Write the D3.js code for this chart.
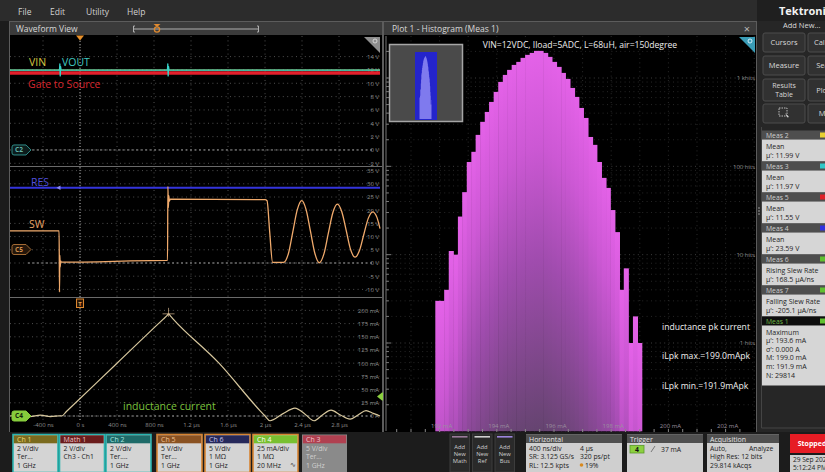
<!DOCTYPE html>
<html><head><meta charset="utf-8">
<script src="https://cdn.jsdelivr.net/npm/d3@7/dist/d3.min.js"></script>
<style>
html,body{margin:0;padding:0;background:#1c1c1c;overflow:hidden}
svg{display:block;font-family:"Open Sans","Noto Sans","DejaVu Sans",sans-serif}
</style></head><body>
<svg id="scope" width="825" height="472"></svg>
<script>
// ---------- waveform axes ----------
const timeTicksNs = [-400, 0, 400, 800, 1200, 1600, 2000, 2400, 2800];
const timeTickLabels = ["-400 ns", "0 s", "400 ns", "800 ns", "1.2 µs", "1.6 µs", "2 µs", "2.4 µs", "2.8 µs"];
const supplyTicksV = [14, 12, 10, 8, 6, 4, 2, 0, -2];
const switchTicksV = [35, 30, 25, 20, 15, 10, 5, 0, -5, -10];
const currentTicksMA = [200, 175, 150, 125, 100, 75, 50, 25, 0];

// ---------- waveform traces (time in ns) ----------
const vinTimeNs = [-757, 3243];
const vinVolts = [11.99, 11.99];
const voutTimeNs = [-757, -222, -218, -214, -210, -205, 945, 949, 953, 957, 962, 3243];
const voutVolts = [11.97, 11.97, 12.9, 11.1, 12.5, 11.97, 11.97, 12.9, 11.1, 12.5, 11.97, 11.97];
const gateTimeNs = [-757, 3243];
const gateVolts = [11.55, 11.55];
const resTimeNs = [-757, 3243];
const resVolts = [28.5, 28.5];
const swTimeNs = [-757, -226, -222, -218, -214, -210, -204, 940, 946, 950, 955, 960, 966, 975,
  2000, 2022, 2050, 2082, 2200, 2253, 2301, 2349, 2397, 2444, 2492, 2540, 2587, 2636, 2684, 2733,
  2782, 2830, 2878, 2925, 2973, 3021, 3068, 3116, 3164, 3212, 3243];
const swVolts = [12.2, 12.2, -11, 3, -1.5, 0.8, 0.3, 1.0, 1.0, 29, 21, 25.5, 23.4, 24.2,
  24.0, 23.6, 12, 0.2, 0.2, 3.6, 11.9, 20.2, 23.6, 20.2, 11.85, 3.5, 0.1, 3.35, 11.2, 19.05,
  22.3, 19.4, 12.25, 5.1, 2.2, 4.7, 10.8, 16.9, 19.4, 17.1, 13];
const inductorTimeNs = [-757, -650, -540, -430, -320, -210, -198, -150, 400, 900, 940, 957, 975, 1000,
  1500, 1950, 2000, 2054, 2190, 2324, 2430, 2530, 2620, 2714, 2815, 2919, 3005, 3092, 3170, 3243];
const inductorMA = [0, 1.5, -1, 1.5, -1, 0.5, 0, 8, 100, 183.5, 190, 193.5, 190, 185,
  100.5, 9.3, 0, -9, 4, 15, 4, -9, 2, 11, 2, -6, 2, 10, 5, 0];
const inductorPeakNs = 957, inductorPeakMA = 193.5;
const triggerLevelMA = 37;

// ---------- histogram of the inductor peak current ----------
const histBinEdgesMA = [191.85, 192.01, 192.16, 192.32, 192.48, 192.64, 192.79, 192.95, 193.11, 193.26,
  193.42, 193.58, 193.73, 193.89, 194.05, 194.21, 194.36, 194.52, 194.68, 194.83, 194.99, 195.15,
  195.30, 195.46, 195.62, 195.78, 195.93, 196.09, 196.25, 196.40, 196.56, 196.72, 196.87, 197.03,
  197.19, 197.35, 197.50, 197.66, 197.82, 197.97, 198.13, 198.29, 198.44, 198.60, 198.76, 198.92, 199.07];
const histHits = [3, 3, 4, 11, 10, 27, 51, 112, 146, 227, 319, 413, 536, 696, 903, 1084, 1236, 1407,
  1522, 1690, 1828, 1924, 2028, 2028, 1924, 1734, 1522, 1336, 1142, 977, 772, 611, 458, 353, 215,
  175, 112, 74, 57, 32, 18, 4, 7, 1, 2, 1];
const histHitTicks = [1000, 100, 10, 1];
const histHitLabels = ["1 khits", "100 hits", "10 hits", "1 hits"];
const histCurrentTicksMA = [192, 194, 196, 198, 200, 202];

// ---------- instrument readouts ----------
const menuItems = ["File", "Edit", "Utility", "Help"];
const measNames = ["Meas 2", "Meas 3", "Meas 5", "Meas 4", "Meas 6", "Meas 7"];
const measKinds = ["Mean", "Mean", "Mean", "Mean", "Rising Slew Rate", "Falling Slew Rate"];
const measValues = ["µ': 11.99 V", "µ': 11.97 V", "µ': 11.55 V", "µ': 23.59 V", "µ': 168.5 µA/ns", "µ': -205.1 µA/ns"];
const meas1Lines = ["Maximum", "µ': 193.6 mA", "σ': 0.000 A", "M: 199.0 mA", "m: 191.9 mA", "N: 29814"];
const badgeNames = ["Ch 1", "Math 1", "Ch 2", "Ch 5", "Ch 6", "Ch 4", "Ch 3"];
const badgeLines = [["2 V/div", "Ter...", "1 GHz"], ["2 V/div", "Ch3 - Ch1"], ["2 V/div", "Ter....", "1 GHz"],
  ["5 V/div", "Ter...", "1 GHz"], ["5 V/div", "1 MΩ", "1 GHz"], ["25 mA/div", "1 MΩ", "20 MHz"], ["5 V/div", "Ter...", "1 GHz"]];
const horizontalLines = [["400 ns/div", "4 µs"], ["SR: 3.125 GS/s", "320 ps/pt"], ["RL: 12.5 kpts", "19%"]];
const acquisitionLines = [["Auto,", "Analyze"], ["High Res: 12 bits", ""], ["29.814 kAcqs", ""]];

// ================= drawing =================
const W = 825, H = 472;
const svg = d3.select("#scope");
const defs = svg.append("defs");
svg.append("rect").attr("width", W).attr("height", H).attr("fill", "#1c1c1c");

function label(g, x, y, s, o = {}) {
  return g.append("text").attr("x", x).attr("y", y).text(s)
    .attr("font-size", o.size || 7).attr("fill", o.fill || "#ddd")
    .attr("text-anchor", o.anchor || "start").attr("font-weight", o.weight || "normal");
}
function rect(g, x, y, w, h, fill, stroke, sw) {
  const r = g.append("rect").attr("x", x).attr("y", y).attr("width", w).attr("height", h).attr("fill", fill);
  if (stroke) r.attr("stroke", stroke).attr("stroke-width", sw || 1);
  return r;
}

// menu bar
rect(svg, 0, 0, 757, 21, "#2c2c2c");
[18, 50, 86, 127].forEach((x, i) => label(svg, x, 15, menuItems[i], { size: 8.5, fill: "#d2d2d2" }));

// ---------- waveform view ----------
rect(svg, 9.5, 21.5, 373, 411, "#000", "#5c5c5c");
rect(svg, 10, 22, 372, 13, "#3b3b3b");
label(svg, 16, 32, "Waveform View", { size: 8.5, fill: "#d8d8d8" });
// horizontal position bar
const hb = svg.append("g").attr("stroke", "#b0b0b0").attr("fill", "none");
hb.append("line").attr("x1", 134).attr("x2", 258).attr("y1", 29).attr("y2", 29);
hb.append("path").attr("d", "M135,26 h-1.5 v6 h1.5 M257,26 h1.5 v6 h-1.5");
svg.append("circle").attr("cx", 157).attr("cy", 29.5).attr("r", 2.6).attr("fill", "none").attr("stroke", "#e08a30").attr("stroke-width", 1.3);
svg.append("path").attr("d", "M153.5,24 h7 l-3.5,3 z").attr("fill", "#e08a30");

const tx = d3.scaleLinear().domain([-757, 3243]).range([10, 380]);
const supplyY = d3.scaleLinear().domain([-2, 14]).range([163.3, 56.6]);
const switchY = d3.scaleLinear().domain([-10, 35]).range([289.4, 170.6]);
const currentY = d3.scaleLinear().domain([0, 200]).range([416, 310.4]);

// graticule
const grid = svg.append("g").attr("stroke", "#4f4f4f").attr("stroke-dasharray", "1,3.4");
timeTicksNs.forEach(t => grid.append("line").attr("x1", tx(t)).attr("x2", tx(t)).attr("y1", 36).attr("y2", 420));
[[supplyY, supplyTicksV], [switchY, switchTicksV], [currentY, currentTicksMA]].forEach(([s, vals]) =>
  vals.forEach(v => grid.append("line").attr("x1", 10).attr("x2", 380).attr("y1", s(v)).attr("y2", s(v))));
// channel ground lines
const gnd = svg.append("g").attr("stroke", "#9a9a9a").attr("stroke-dasharray", "2,2.5");
[supplyY(0), switchY(0), currentY(0)].forEach(y => gnd.append("line").attr("x1", 28).attr("x2", 372).attr("y1", y).attr("y2", y));
// panel separators
svg.append("g").attr("stroke", "#6a6a6a").selectAll("line").data([166.5, 297.5]).join("line")
  .attr("x1", 10).attr("x2", 382).attr("y1", d => d).attr("y2", d => d);
// trigger time line
svg.append("line").attr("x1", tx(0)).attr("x2", tx(0)).attr("y1", 38).attr("y2", 420)
  .attr("stroke", "#a8a8a8").attr("stroke-dasharray", "1,2");
svg.append("path").attr("d", `M${tx(0) - 4},35.5 h8 l-4,5 z`).attr("fill", "#e8902a");

// vertical scale readouts
function yReadout(scale, vals, fmt) {
  const g = svg.append("g").attr("transform", "translate(379,0)")
    .call(d3.axisLeft(scale).tickValues(vals).tickFormat(fmt).tickSize(0).tickPadding(0));
  g.attr("font-family", null).attr("font-size", 6);
  g.select(".domain").remove();
  g.selectAll("text").attr("fill", "#8e8e8e");
}
yReadout(supplyY, supplyTicksV, d => d + " V");
yReadout(switchY, switchTicksV, d => d + " V");
yReadout(currentY, currentTicksMA, d => d === 0 ? "0 A" : d + " mA");
const ta = svg.append("g").attr("transform", "translate(0,423)")
  .call(d3.axisBottom(tx).tickValues(timeTicksNs).tickFormat((d, i) => timeTickLabels[i]).tickSize(0).tickPadding(0));
ta.attr("font-family", null).attr("font-size", 6);
ta.select(".domain").remove();
ta.selectAll("text").attr("fill", "#8e8e8e");

// traces
defs.append("clipPath").attr("id", "wfClip").append("rect").attr("x", 10).attr("y", 36).attr("width", 371).attr("height", 394);
const traces = svg.append("g").attr("clip-path", "url(#wfClip)").attr("fill", "none");
function trace(ts, vs, yScale, color, width, curve) {
  const gen = d3.line().x((d, i) => tx(ts[i])).y((d, i) => yScale(vs[i])).curve(curve || d3.curveLinear);
  traces.append("path").attr("d", gen(ts)).attr("stroke", color).attr("stroke-width", width).attr("stroke-linejoin", "round");
}
trace(gateTimeNs, gateVolts, supplyY, "#e2202c", 3.6);
trace(vinTimeNs, vinVolts, supplyY, "#d6c23a", 1.2);
trace(voutTimeNs, voutVolts, supplyY, "#36d2c8", 1.3);
trace(resTimeNs, resVolts, switchY, "#3434dc", 2);
trace(swTimeNs, swVolts, switchY, "#f0aa6c", 1.3, d3.curveMonotoneX);
trace(inductorTimeNs, inductorMA, currentY, "#d8c89e", 1.2, d3.curveMonotoneX);
// marker on the RES trace
svg.append("path").attr("d", `M${tx(-222) - 3},${switchY(28.5)} l4,-2.2 v4.4 z`).attr("fill", "#8a8af0");
// peak cursor on the inductor current
const pk = svg.append("g").attr("stroke", "#d8b890").attr("stroke-width", 0.8).attr("opacity", 0.85);
pk.append("line").attr("x1", tx(inductorPeakNs) - 6).attr("x2", tx(inductorPeakNs) + 6).attr("y1", currentY(inductorPeakMA)).attr("y2", currentY(inductorPeakMA));
pk.append("line").attr("x1", tx(inductorPeakNs)).attr("x2", tx(inductorPeakNs)).attr("y1", currentY(inductorPeakMA) - 6).attr("y2", currentY(inductorPeakMA) + 3);

// trace labels
label(svg, 29, 66, "VIN", { size: 10.5, fill: "#d8c640" });
label(svg, 62, 66, "VOUT", { size: 10.5, fill: "#40c8c0" });
label(svg, 28, 88, "Gate to Source", { size: 10.5, fill: "#d8262e" });
label(svg, 31, 186, "RES", { size: 10.5, fill: "#5050dc" });
label(svg, 29, 228, "SW", { size: 10.5, fill: "#e8a466" });
label(svg, 123, 410, "inductance current", { size: 10.5, fill: "#7cc23e" });

// channel tags
function tag(x, yc, name, fill, stroke, color) {
  svg.append("path").attr("d", `M${x + 2},${yc - 5} h12 l5,5 l-5,5 h-12 q-2,0 -2,-2 v-6 q0,-2 2,-2 z`)
    .attr("fill", fill).attr("stroke", stroke).attr("stroke-width", 1);
  label(svg, x + 3, yc + 2.3, name, { size: 6.5, fill: color, weight: "bold" });
}
tag(12, supplyY(0), "C2", "#0c1c1c", "#2e8c88", "#62b4ac");
tag(12, 249.5, "C5", "#24160a", "#a26a34", "#d09050");
tag(12, currentY(0), "C4", "#86cc3c", "#86cc3c", "#13240a");
// trigger marker and level
svg.append("rect").attr("x", tx(0) - 3.5).attr("y", 299).attr("width", 7).attr("height", 8.5).attr("fill", "#2a1606").attr("stroke", "#e08a30");
label(svg, tx(0), 305.8, "T", { size: 6, fill: "#e8a050", anchor: "middle", weight: "bold" });
svg.append("path").attr("d", `M377,${currentY(triggerLevelMA)} l5,-4 h4 v8 h-4 z`).attr("fill", "#8cd040");
// corner tool
svg.append("path").attr("d", "M364,37 h16 v16 z").attr("fill", "#8e8e8e");
svg.append("circle").attr("cx", 375).attr("cy", 41).attr("r", 2).attr("fill", "none").attr("stroke", "#ddd").attr("stroke-width", 0.9);

// ---------- histogram plot ----------
rect(svg, 383.5, 21.5, 373, 411, "#000", "#5c5c5c");
rect(svg, 384, 22, 372, 13, "#3b3b3b");
label(svg, 392, 32, "Plot 1 - Histogram (Meas 1)", { size: 8.5, fill: "#d8d8d8" });
label(svg, 747, 33, "×", { size: 11, fill: "#b8b8b8", anchor: "middle" });

const hx = d3.scaleLinear().domain([192, 202]).range([439.6, 725.6]);
const hy = d3.scaleLog().domain([1, 1000]).range([343, 78]);
const hBottom = hy(0.1);

// faint log grid
const hgrid = svg.append("g").attr("stroke-dasharray", "1,3.4");
[0.1, 1, 10, 100, 1000].forEach(dec => [1, 2, 3, 4, 5, 6, 7, 8, 9].forEach(m => {
  const y = hy(dec * m);
  if (y < 37 || y > 430) return;
  hgrid.append("line").attr("x1", 387).attr("x2", 756).attr("y1", y).attr("y2", y)
    .attr("stroke", m === 1 ? "#3c3c3c" : "#262626");
  svg.append("line").attr("x1", 386).attr("x2", m === 1 ? 391 : 389).attr("y1", y).attr("y2", y).attr("stroke", "#777");
}));
[190, 191, 192, 193, 194, 195, 196, 197, 198, 199, 200, 201, 202, 203].forEach(v => {
  const x = hx(v);
  if (x < 387 || x > 755) return;
  hgrid.append("line").attr("x1", x).attr("x2", x).attr("y1", 36).attr("y2", 431).attr("stroke", "#2a2a2a");
});
svg.append("line").attr("x1", 386).attr("x2", 386).attr("y1", 36).attr("y2", 431).attr("stroke", "#777");

// bars, each shaded from its own top edge downwards
defs.append("clipPath").attr("id", "hClip").append("rect").attr("x", 384).attr("y", 35).attr("width", 372).attr("height", 397);
const bars = svg.append("g").attr("clip-path", "url(#hClip)");
histHits.forEach((h, i) => {
  const top = hy(h);
  const g = defs.append("linearGradient").attr("id", "bin" + i).attr("gradientUnits", "userSpaceOnUse")
    .attr("x1", 0).attr("x2", 0).attr("y1", top).attr("y2", top + 380);
  [[0, "#e462e8"], [0.25, "#cc58d4"], [0.55, "#a04cae"], [1, "#654470"]].forEach(([o, c]) =>
    g.append("stop").attr("offset", o).attr("stop-color", c));
  const x0 = hx(histBinEdgesMA[i]), x1 = hx(histBinEdgesMA[i + 1]);
  bars.append("rect").attr("x", x0).attr("y", top).attr("width", x1 - x0 + 0.5).attr("height", hBottom - top)
    .attr("fill", `url(#bin${i})`);
});

// histogram axes
const hya = svg.append("g").attr("transform", "translate(755,0)")
  .call(d3.axisLeft(hy).tickValues(histHitTicks).tickFormat((d, i) => histHitLabels[i]).tickSize(0).tickPadding(0));
hya.attr("font-family", null).attr("font-size", 6);
hya.select(".domain").remove();
hya.selectAll("text").attr("fill", "#8e8e8e");
const hxa = svg.append("g").attr("transform", "translate(1.5,423.5)")
  .call(d3.axisBottom(hx).tickValues(histCurrentTicksMA).tickFormat(d => d + " mA").tickSize(0).tickPadding(0));
hxa.attr("font-family", null).attr("font-size", 6);
hxa.select(".domain").remove();
hxa.selectAll("text").attr("fill", "#9a8e9e");
[190.5, 191, 191.5, 192, 192.5, 193, 193.5, 194, 194.5, 195, 195.5, 196, 196.5, 197, 197.5, 198, 198.5, 199, 199.5, 200, 200.5, 201, 201.5, 202, 202.5]
  .forEach(v => svg.append("line").attr("x1", hx(v)).attr("x2", hx(v)).attr("y1", 429).attr("y2", 432).attr("stroke", "#888"));

// annotations
label(svg, 580, 48, "VIN=12VDC, Iload=5ADC, L=68uH, air=150degree", { size: 8.6, fill: "#eeeeee", anchor: "middle" });
label(svg, 662, 330, "inductance pk current", { size: 8.6, fill: "#f0f0f0" });
label(svg, 662, 359, "iLpk max.=199.0mApk", { size: 8.6, fill: "#f0f0f0" });
label(svg, 662, 389, "iLpk min.=191.9mApk", { size: 8.6, fill: "#f0f0f0" });
// corner tool
svg.append("path").attr("d", "M739,37 h16 v16 z").attr("fill", "#3a9cb6");
svg.append("circle").attr("cx", 750).attr("cy", 41).attr("r", 2).attr("fill", "none").attr("stroke", "#e0f4ff").attr("stroke-width", 0.9);

// overview inset
rect(svg, 389.5, 44.5, 73, 77, "#4a4a4a", "#a6a6a6", 1.5);
rect(svg, 415, 52, 22, 68, "#2424cc");
const mx = d3.scaleLinear().domain([191.85, 199.07]).range([419.5, 431.5]);
const my = d3.scaleLog().domain([0.1, 2100]).range([119, 56]);
const miniArea = d3.area().x((d, i) => mx(histBinEdgesMA[i])).y0(119).y1((d, i) => my(histHits[Math.min(i, histHits.length - 1)]))
  .curve(d3.curveStepAfter);
svg.append("path").attr("d", miniArea(histBinEdgesMA)).attr("fill", "#8a84f2").attr("opacity", 0.9);

// ---------- right side bar ----------
rect(svg, 757, 0, 68, 432, "#262626");
rect(svg, 757, 0, 68, 21, "#1f1f1f");
label(svg, 779, 15, "Tektronix", { size: 11, fill: "#f2f2f2", weight: "bold" });
label(svg, 783, 28, "Add New...", { size: 7.5, fill: "#dcdcdc" });
function button(x, y, w, h, lines) {
  svg.append("rect").attr("x", x).attr("y", y).attr("width", w).attr("height", h).attr("rx", 2)
    .attr("fill", "#313131").attr("stroke", "#4c4c4c");
  const fs = lines.length > 1 ? 7 : 7.5;
  lines.forEach((s, i) => label(svg, x + w / 2, y + h / 2 + 2.6 - (lines.length - 1) * 4.4 + i * 8.8, s, { size: fs, fill: "#d8d8d8", anchor: "middle" }));
}
button(763, 33, 42, 19, ["Cursors"]);
button(808, 33, 40, 19, ["Callouts"]);
button(763, 56, 42, 19, ["Measure"]);
button(808, 56, 40, 19, ["Search"]);
button(763, 79, 42, 22, ["Results", "Table"]);
button(808, 79, 30, 22, ["Plot"]);
button(763, 104, 42, 19, [""]);
button(808, 104, 40, 19, ["More"]);
svg.append("rect").attr("x", 779).attr("y", 108).attr("width", 8).attr("height", 8).attr("fill", "none")
  .attr("stroke", "#bbb").attr("stroke-dasharray", "1.5,1");
svg.append("path").attr("d", "M785,113 l4,4 l-1.5,0.5 z").attr("fill", "#ddd");

const measColors = ["#e8d030", "#30c8c8", "#e02028", "#3030e0", "#60c030", "#60c030"];
measNames.forEach((n, i) => {
  const y0 = 130.5 + i * 31;
  rect(svg, 762, y0, 63, 9, "#4e4e4e");
  label(svg, 766, y0 + 7, n, { size: 6.8, fill: "#cfcfcf" });
  rect(svg, 820, y0 + 2, 5, 5, measColors[i]);
  rect(svg, 762, y0 + 9, 63, 22, "#d6d6d6");
  label(svg, 766, y0 + 18, measKinds[i], { size: 7, fill: "#1f1f1f" });
  label(svg, 766, y0 + 27.5, measValues[i], { size: 7, fill: "#1f1f1f" });
});
rect(svg, 762, 316.5, 63, 9, "#0e0e0e");
label(svg, 766, 323.5, "Meas 1", { size: 6.8, fill: "#70b848" });
rect(svg, 820, 318.5, 5, 5, "#60c030");
rect(svg, 762, 325.5, 63, 60, "#d6d6d6");
meas1Lines.forEach((s, i) => label(svg, 766, 334.5 + i * 8.6, s, { size: 7, fill: "#1f1f1f" }));
svg.append("path").attr("d", "M761.5,127 v301 h64").attr("fill", "none").attr("stroke", "#444");
[208, 211, 214].forEach(y => svg.append("circle").attr("cx", 759).attr("cy", y).attr("r", 0.8).attr("fill", "#aaa"));

// ---------- bottom status bar ----------
rect(svg, 0, 432, W, 40, "#1c1c1c");
const badgeX = [13, 59.5, 106, 157, 205, 253, 302];
const badgeHead = ["#7a6a1e", "#6a1c1c", "#1e6a68", "#8a5222", "#25285a", "#78c030", "#b04050"];
const badgeHeadText = ["#ead870", "#f0c4c4", "#a4e8e0", "#f0c090", "#c4c4f0", "#ffffff", "#f0c4cc"];
const badgeBorder = ["#2ab4b0", "#2ab4b0", "#2ab4b0", "#d68432", "#d68432", "#d68432", null];
badgeNames.forEach((n, i) => {
  const x = badgeX[i], dim = i === 6;
  rect(svg, x, 434.5, 45, 38, dim ? "#8a8a8a" : "#d4d4d4", badgeBorder[i], 1.6);
  rect(svg, x + 0.8, 435.3, 43.4, 8, badgeHead[i]);
  label(svg, x + 4, 441.8, n, { size: 7, fill: badgeHeadText[i] });
  badgeLines[i].forEach((s, j) => label(svg, x + 4, 450.5 + j * 8.5, s, { size: 6.8, fill: dim ? "#d0d0d0" : "#222" }));
});
label(svg, 290, 467, "∿", { size: 7, fill: "#333" });

["Math", "Ref", "Bus"].forEach((s, i) => {
  const x = 450 + i * 22.5;
  rect(svg, x, 434, 19.5, 38, "#2a2a2a", "#3c3c3c");
  rect(svg, x + 2, 436, 15.5, 1.6, ["#9a7a9a", "#d0d0d0", "#9c84dc"][i]);
  ["Add", "New", s].forEach((t, j) => label(svg, x + 9.75, 448.5 + j * 7, t, { size: 5.8, fill: "#cfcfcf", anchor: "middle" }));
});
function infoBox(x, w, title) {
  rect(svg, x, 434.5, w, 38, "#cfcfcf");
  rect(svg, x, 434.5, w, 8.5, "#505050");
  label(svg, x + 3, 441.5, title, { size: 7, fill: "#e6e6e6" });
}
infoBox(526, 96, "Horizontal");
horizontalLines.forEach((r, j) => {
  label(svg, 529, 450.5 + j * 8.5, r[0], { size: 6.8, fill: "#222" });
  label(svg, j === 2 ? 585 : 580, 450.5 + j * 8.5, r[1], { size: 6.8, fill: "#222" });
});
svg.append("circle").attr("cx", 581.5).attr("cy", 465).attr("r", 1.8).attr("fill", "#d88a20");
infoBox(627, 76, "Trigger");
rect(svg, 630, 445.5, 14, 7.5, "#8cd040", "#5a9a28", 0.8);
label(svg, 637, 451.7, "4", { size: 6.8, fill: "#111", anchor: "middle", weight: "bold" });
svg.append("line").attr("x1", 651).attr("x2", 655).attr("y1", 452).attr("y2", 446).attr("stroke", "#777");
label(svg, 661, 451.5, "37 mA", { size: 6.8, fill: "#222" });
infoBox(707, 72, "Acquisition");
acquisitionLines.forEach((r, j) => {
  label(svg, 710, 450.5 + j * 8.5, r[0], { size: 6.8, fill: "#222" });
  if (r[1]) label(svg, 749, 450.5 + j * 8.5, r[1], { size: 6.8, fill: "#222" });
});
rect(svg, 790, 434, 40, 19, "#e61c24");
label(svg, 812, 446, "Stopped", { size: 7, fill: "#fff", anchor: "middle", weight: "bold" });
rect(svg, 790, 455, 40, 17, "#d0d0d0");
label(svg, 793, 462, "29 Sep 2022", { size: 6.6, fill: "#222" });
label(svg, 793, 470, "5:12:24 PM", { size: 6.6, fill: "#222" });
</script></body></html>
